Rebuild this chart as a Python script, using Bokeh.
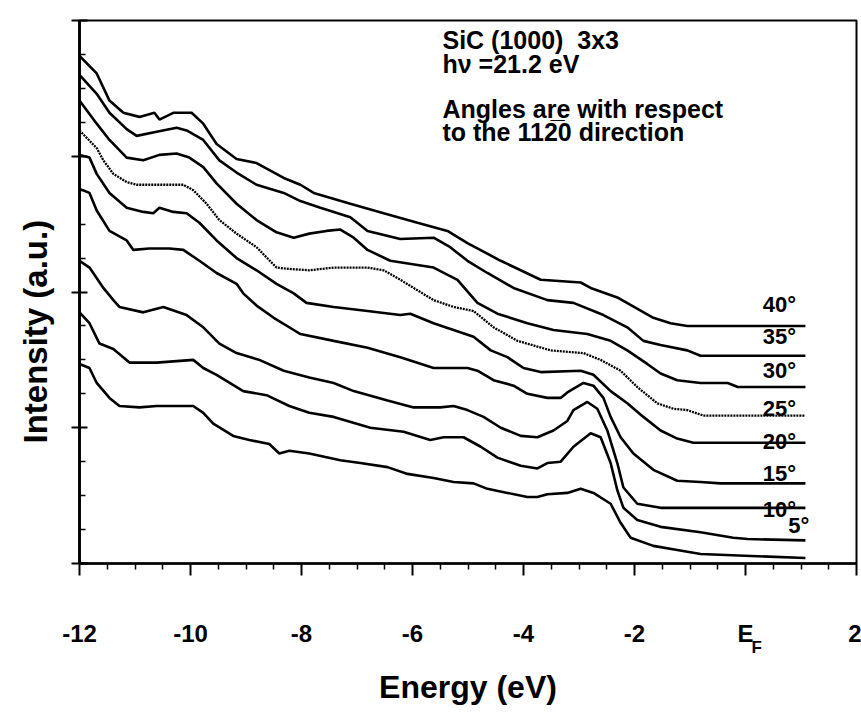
from bokeh.plotting import figure
from bokeh.models import Range1d, FixedTicker, Label, LinearAxis, Title
from bokeh.embed import file_html
from bokeh.resources import INLINE

FONT = "Liberation Sans"

# ---- data: photoemission spectra (energy in eV, intensity in a.u.) ----
e_40 = [-12.0, -11.69, -11.46, -11.21, -10.92, -10.65, -10.56, -10.31, -9.98, -9.77, -9.53, -9.17, -8.81, -8.32,
        -8.02, -7.78, -7.12, -6.52, -5.91, -5.37, -5.01, -4.41, -3.69, -2.97, -2.79, -2.31, -1.66, -1.35, -1.05, 1.08]
i_40 = [3.74, 3.61, 3.41, 3.32, 3.29, 3.32, 3.27, 3.32, 3.32, 3.24, 3.09, 2.98, 2.95, 2.84,
        2.79, 2.73, 2.65, 2.58, 2.51, 2.45, 2.36, 2.23, 2.09, 2.07, 2.03, 1.96, 1.81, 1.77, 1.75, 1.75]

e_35 = [-12.0, -11.69, -11.46, -11.15, -10.97, -10.61, -10.25, -10.07, -9.77, -9.48, -9.17, -8.81, -8.32, -8.02,
        -7.66, -7.12, -6.81, -6.22, -5.62, -5.32, -5.01, -4.65, -4.18, -3.57, -3.10, -2.56, -2.13, -1.84, -1.53,
        -1.05, -0.81, 1.08]
i_35 = [3.60, 3.46, 3.32, 3.20, 3.15, 3.18, 3.21, 3.19, 3.12, 2.97, 2.88, 2.79, 2.73, 2.67,
        2.62, 2.55, 2.45, 2.39, 2.40, 2.33, 2.23, 2.14, 2.03, 1.94, 1.92, 1.83, 1.74, 1.64, 1.61,
        1.57, 1.53, 1.53]

e_30 = [-12.0, -11.69, -11.46, -11.15, -10.85, -10.56, -10.25, -10.02, -9.77, -9.53, -9.17, -8.81, -8.45, -8.14,
        -7.86, -7.55, -7.30, -7.06, -6.81, -6.40, -5.62, -5.19, -4.83, -4.47, -3.93, -3.46, -2.85, -2.43, -2.13,
        -1.77, -1.53, -1.23, -0.81, -0.32, -0.14, 1.08]
i_30 = [3.41, 3.24, 3.12, 2.99, 2.97, 3.01, 3.02, 2.99, 2.92, 2.80, 2.65, 2.53, 2.44, 2.40,
        2.43, 2.45, 2.46, 2.40, 2.31, 2.23, 2.18, 2.09, 1.92, 1.84, 1.77, 1.72, 1.69, 1.64, 1.57,
        1.47, 1.40, 1.35, 1.33, 1.33, 1.30, 1.30]

e_25 = [-12.0, -11.69, -11.57, -11.39, -11.15, -10.97, -10.13, -9.95, -9.71, -9.48, -9.17, -8.81, -8.45, -8.22,
        -7.86, -7.42, -6.81, -6.52, -6.22, -5.62, -5.26, -4.90, -4.54, -4.11, -3.51, -2.92, -2.61, -2.25, -1.95,
        -1.59, -1.30, -1.05, -0.76, 1.08]
i_25 = [3.19, 3.06, 2.97, 2.87, 2.81, 2.79, 2.79, 2.75, 2.65, 2.53, 2.43, 2.33, 2.18, 2.17,
        2.16, 2.18, 2.18, 2.16, 2.09, 1.94, 1.89, 1.86, 1.74, 1.64, 1.57, 1.55, 1.50, 1.42, 1.30,
        1.18, 1.14, 1.13, 1.09, 1.09]

e_20 = [-12.0, -11.82, -11.69, -11.46, -11.15, -10.85, -10.67, -10.56, -10.31, -10.07, -9.84, -9.53, -9.17, -8.81,
        -8.45, -8.14, -7.91, -7.42, -6.81, -6.22, -6.04, -5.62, -5.26, -4.90, -4.59, -4.29, -4.00, -3.69, -2.97,
        -2.74, -2.43, -2.13, -1.84, -1.53, -1.23, -0.94, 1.08]
i_20 = [3.01, 2.99, 2.87, 2.73, 2.62, 2.59, 2.58, 2.62, 2.59, 2.58, 2.51, 2.38, 2.25, 2.16,
        2.06, 1.99, 1.92, 1.89, 1.86, 1.83, 1.84, 1.77, 1.72, 1.67, 1.57, 1.52, 1.44, 1.41, 1.42,
        1.39, 1.27, 1.18, 1.08, 0.98, 0.92, 0.89, 0.89]

e_15 = [-12.0, -11.82, -11.69, -11.46, -11.15, -11.03, -10.74, -10.38, -10.13, -9.84, -9.53, -9.17, -9.05, -8.81,
        -8.50, -8.14, -8.02, -7.42, -6.81, -6.22, -5.62, -5.01, -4.83, -4.54, -4.18, -3.93, -3.57, -3.33, -3.21,
        -2.92, -2.74, -2.56, -2.43, -2.25, -2.02, -1.66, -1.23, -0.81, -0.45, 1.08]
i_15 = [2.76, 2.73, 2.60, 2.45, 2.38, 2.31, 2.32, 2.32, 2.31, 2.23, 2.14, 2.06, 1.99, 1.90,
        1.81, 1.72, 1.69, 1.64, 1.59, 1.52, 1.44, 1.44, 1.42, 1.35, 1.31, 1.25, 1.22, 1.22, 1.26,
        1.33, 1.31, 1.22, 1.08, 0.93, 0.81, 0.69, 0.61, 0.60, 0.59, 0.59]

e_10 = [-12.0, -11.82, -11.57, -11.39, -11.28, -10.85, -10.49, -10.07, -9.77, -9.48, -9.17, -8.76, -8.32, -7.86,
        -7.42, -7.06, -6.45, -5.98, -5.50, -5.26, -5.01, -4.72, -4.41, -4.05, -3.75, -3.46, -3.21, -3.10, -2.85,
        -2.67, -2.49, -2.31, -2.20, -1.95, -1.53, 1.08]
i_10 = [2.23, 2.18, 2.03, 1.94, 1.89, 1.85, 1.89, 1.83, 1.74, 1.62, 1.55, 1.50, 1.42, 1.37,
        1.33, 1.27, 1.20, 1.15, 1.15, 1.16, 1.13, 1.08, 1.00, 0.94, 0.93, 0.98, 1.05, 1.13, 1.19,
        1.14, 0.98, 0.74, 0.56, 0.44, 0.41, 0.41]

e_05 = [-12.0, -11.82, -11.64, -11.39, -11.10, -10.61, -9.95, -9.77, -9.53, -9.05, -8.63, -8.22, -7.86, -7.42,
        -6.76, -6.16, -5.68, -5.44, -5.08, -4.77, -4.47, -4.05, -3.75, -3.57, -3.33, -3.10, -2.79, -2.61, -2.43,
        -2.31, -2.20, -1.95, -1.53, -0.81, -0.22, 0.04, 1.08]
i_05 = [1.85, 1.77, 1.62, 1.58, 1.48, 1.48, 1.50, 1.44, 1.39, 1.27, 1.24, 1.16, 1.11, 1.08,
        1.00, 0.97, 0.91, 0.93, 0.93, 0.86, 0.78, 0.72, 0.70, 0.74, 0.75, 0.86, 0.96, 0.93, 0.74,
        0.54, 0.41, 0.32, 0.27, 0.23, 0.19, 0.18, 0.17]

e_00 = [-12.0, -11.82, -11.69, -11.46, -11.28, -10.92, -10.61, -9.95, -9.77, -9.59, -9.23, -8.94, -8.58, -8.40,
        -8.22, -7.86, -7.30, -6.94, -6.45, -6.09, -5.62, -5.26, -4.90, -4.65, -4.29, -3.93, -3.75, -3.57, -3.21,
        -2.97, -2.74, -2.43, -2.25, -2.07, -1.66, -1.23, -0.81, 1.08]
i_00 = [1.47, 1.44, 1.33, 1.22, 1.16, 1.15, 1.16, 1.16, 1.11, 1.03, 0.94, 0.91, 0.88, 0.81,
        0.83, 0.81, 0.76, 0.74, 0.71, 0.66, 0.63, 0.60, 0.59, 0.55, 0.52, 0.49, 0.49, 0.51, 0.52,
        0.55, 0.52, 0.44, 0.30, 0.19, 0.13, 0.10, 0.07, 0.04]

angle_labels = ["40°", "35°", "30°", "25°", "20°", "15°", "10°", "5°"]

x_ticks = [-12, -10, -8, -6, -4, -2, 0, 2]
x_tick_labels = ["-12", "-10", "-8", "-6", "-4", "-2", "E", "2"]
y_ticks = [0, 1, 2, 3, 4]

# ---- figure ----
p = figure(width=861, height=723, output_backend="svg", toolbar_location=None,
           x_range=Range1d(-12, 2), y_range=Range1d(0, 4),
           min_border_left=79, min_border_right=5, min_border_top=20, min_border_bottom=160)
p.grid.visible = False
p.outline_line_color = "black"
p.outline_line_width = 2
p.background_fill_color = "white"
p.border_fill_color = "white"

xa = p.xaxis[0]
xa.ticker = FixedTicker(ticks=x_ticks,
                        minor_ticks=[t / 2 for t in range(-24, 5) if t % 4 != 0])
xa.major_label_overrides = {t: s for t, s in zip(x_ticks, x_tick_labels)}
xa.axis_line_width = 2.5
xa.major_tick_in = 0
xa.major_tick_out = 12
xa.major_tick_line_width = 2
xa.minor_tick_in = 0
xa.minor_tick_out = 6
xa.minor_tick_line_width = 1.5
xa.major_label_text_font = FONT
xa.major_label_text_font_style = "bold"
xa.major_label_text_font_size = "24px"
xa.major_label_text_color = "black"
xa.major_label_standoff = 44

# second (outer) bottom axis: carries the subscript of E_F and the axis title
xa2 = LinearAxis(ticker=FixedTicker(ticks=[0.2], minor_ticks=[]))
xa2.major_label_overrides = {0.2: "F"}
xa2.axis_line_alpha = 0
xa2.major_tick_in = 0
xa2.major_tick_out = 0
xa2.minor_tick_in = 0
xa2.minor_tick_out = 0
xa2.major_label_text_font = FONT
xa2.major_label_text_font_style = "bold"
xa2.major_label_text_font_size = "17px"
xa2.major_label_text_color = "black"
xa2.major_label_standoff = -12
xa2.axis_label = "Energy (eV)"
xa2.axis_label_text_font = FONT
xa2.axis_label_text_font_style = "bold"
xa2.axis_label_text_font_size = "32px"
xa2.axis_label_text_color = "black"
xa2.axis_label_standoff = 9
p.add_layout(xa2, "below")

# inner left axis: quarter-step minor ticks only (no labels)
ya = p.yaxis[0]
ya.ticker = FixedTicker(ticks=[], minor_ticks=[t / 4 for t in range(0, 17) if t % 4 != 0])
ya.axis_line_width = 2.5
ya.major_tick_in = 0
ya.major_tick_out = 0
ya.minor_tick_in = 6
ya.minor_tick_out = 0
ya.minor_tick_line_width = 1.5

# outer left axis: the unit ticks, crossing the axis line
ya2 = LinearAxis(ticker=FixedTicker(ticks=[], minor_ticks=y_ticks))
ya2.axis_line_width = 2.5
ya2.major_tick_in = 0
ya2.major_tick_out = 0
ya2.minor_tick_in = 8
ya2.minor_tick_out = 8
ya2.minor_tick_line_width = 2
p.add_layout(ya2, "left")

# y axis title (sits lower than the frame centre, like in the original)
p.add_layout(Title(text="Intensity (a.u.)", align="left", offset=120, standoff=32,
                   vertical_align="top",
                   text_font=FONT, text_font_style="bold", text_font_size="33px",
                   text_color="black"), "left")

# ---- spectra ----
curves = [(e_40, i_40, None), (e_35, i_35, None), (e_30, i_30, None), (e_25, i_25, "2 1"),
          (e_20, i_20, None), (e_15, i_15, None), (e_10, i_10, None), (e_05, i_05, None),
          (e_00, i_00, None)]
for e, i, dash in curves:
    if dash:
        p.line(e, i, line_color="black", line_width=2.3, line_dash=dash)
    else:
        p.line(e, i, line_color="black", line_width=2.6)

# ---- angle labels ----
angle_x = [0.31, 0.31, 0.31, 0.31, 0.31, 0.31, 0.31, 0.77]
angle_y = [1.91, 1.67, 1.42, 1.14, 0.90, 0.66, 0.40, 0.28]
for t, ax_, ay_ in zip(angle_labels, angle_x, angle_y):
    p.add_layout(Label(x=ax_, y=ay_, text=t, text_font=FONT, text_font_style="bold",
                       text_font_size="22px", text_color="black", text_baseline="alphabetic"))

# ---- annotation text ----
notes = ["SiC (1000)\u00a0 3x3", "hν =21.2 eV", "Angles are with respect", "to the 112\u03050 direction"]
note_y = [3.86, 3.68, 3.35, 3.18]
for t, ny in zip(notes, note_y):
    p.add_layout(Label(x=-5.46, y=ny, text=t, text_font=FONT, text_font_style="bold",
                       text_font_size="25px", text_color="black", text_baseline="alphabetic"))

open("out.html", "w").write(file_html(p, INLINE))
